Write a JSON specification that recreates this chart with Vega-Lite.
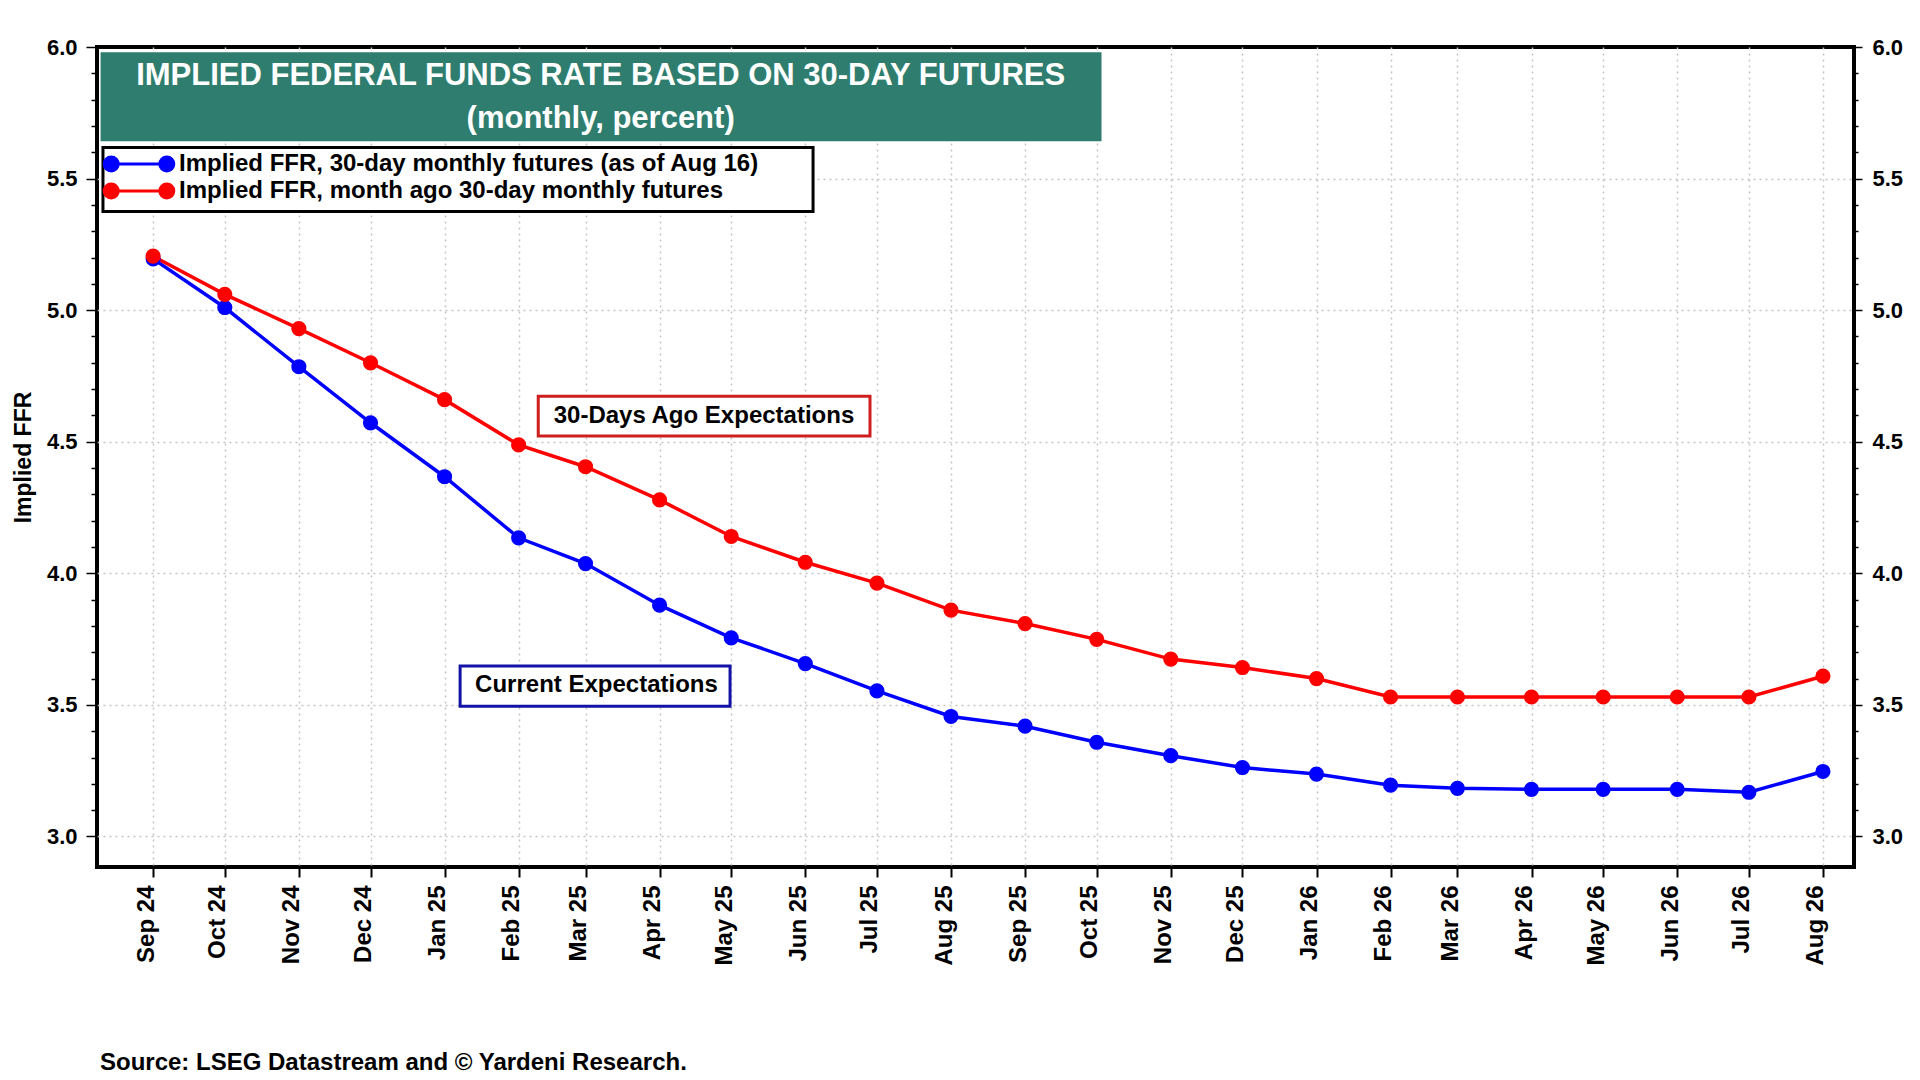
{
  "$schema": "https://vega.github.io/schema/vega-lite/v6.json",
  "width": 1757,
  "height": 820,
  "autosize": {"type": "none"},
  "padding": {"left": 97, "top": 47, "right": 66, "bottom": 213},
  "background": "white",
  "title": {
    "text": "Source: LSEG Datastream and © Yardeni Research.",
    "orient": "bottom",
    "anchor": "start",
    "frame": "group",
    "font": "Liberation Sans",
    "fontSize": 24,
    "fontWeight": "bold",
    "color": "black",
    "offset": 86,
    "dx": 3
  },
  "datasets": {
    "series": [
      {"date": "2024-09-01", "value": 5.195, "series": "Implied FFR, 30-day monthly futures (as of Aug 16)"},
      {"date": "2024-10-01", "value": 5.01, "series": "Implied FFR, 30-day monthly futures (as of Aug 16)"},
      {"date": "2024-11-01", "value": 4.785, "series": "Implied FFR, 30-day monthly futures (as of Aug 16)"},
      {"date": "2024-12-01", "value": 4.572, "series": "Implied FFR, 30-day monthly futures (as of Aug 16)"},
      {"date": "2025-01-01", "value": 4.367, "series": "Implied FFR, 30-day monthly futures (as of Aug 16)"},
      {"date": "2025-02-01", "value": 4.135, "series": "Implied FFR, 30-day monthly futures (as of Aug 16)"},
      {"date": "2025-03-01", "value": 4.037, "series": "Implied FFR, 30-day monthly futures (as of Aug 16)"},
      {"date": "2025-04-01", "value": 3.879, "series": "Implied FFR, 30-day monthly futures (as of Aug 16)"},
      {"date": "2025-05-01", "value": 3.755, "series": "Implied FFR, 30-day monthly futures (as of Aug 16)"},
      {"date": "2025-06-01", "value": 3.657, "series": "Implied FFR, 30-day monthly futures (as of Aug 16)"},
      {"date": "2025-07-01", "value": 3.553, "series": "Implied FFR, 30-day monthly futures (as of Aug 16)"},
      {"date": "2025-08-01", "value": 3.456, "series": "Implied FFR, 30-day monthly futures (as of Aug 16)"},
      {"date": "2025-09-01", "value": 3.419, "series": "Implied FFR, 30-day monthly futures (as of Aug 16)"},
      {"date": "2025-10-01", "value": 3.358, "series": "Implied FFR, 30-day monthly futures (as of Aug 16)"},
      {"date": "2025-11-01", "value": 3.307, "series": "Implied FFR, 30-day monthly futures (as of Aug 16)"},
      {"date": "2025-12-01", "value": 3.262, "series": "Implied FFR, 30-day monthly futures (as of Aug 16)"},
      {"date": "2026-01-01", "value": 3.237, "series": "Implied FFR, 30-day monthly futures (as of Aug 16)"},
      {"date": "2026-02-01", "value": 3.195, "series": "Implied FFR, 30-day monthly futures (as of Aug 16)"},
      {"date": "2026-03-01", "value": 3.183, "series": "Implied FFR, 30-day monthly futures (as of Aug 16)"},
      {"date": "2026-04-01", "value": 3.179, "series": "Implied FFR, 30-day monthly futures (as of Aug 16)"},
      {"date": "2026-05-01", "value": 3.179, "series": "Implied FFR, 30-day monthly futures (as of Aug 16)"},
      {"date": "2026-06-01", "value": 3.179, "series": "Implied FFR, 30-day monthly futures (as of Aug 16)"},
      {"date": "2026-07-01", "value": 3.168, "series": "Implied FFR, 30-day monthly futures (as of Aug 16)"},
      {"date": "2026-08-01", "value": 3.247, "series": "Implied FFR, 30-day monthly futures (as of Aug 16)"},
      {"date": "2024-09-01", "value": 5.205, "series": "Implied FFR, month ago 30-day monthly futures"},
      {"date": "2024-10-01", "value": 5.06, "series": "Implied FFR, month ago 30-day monthly futures"},
      {"date": "2024-11-01", "value": 4.93, "series": "Implied FFR, month ago 30-day monthly futures"},
      {"date": "2024-12-01", "value": 4.8, "series": "Implied FFR, month ago 30-day monthly futures"},
      {"date": "2025-01-01", "value": 4.66, "series": "Implied FFR, month ago 30-day monthly futures"},
      {"date": "2025-02-01", "value": 4.488, "series": "Implied FFR, month ago 30-day monthly futures"},
      {"date": "2025-03-01", "value": 4.405, "series": "Implied FFR, month ago 30-day monthly futures"},
      {"date": "2025-04-01", "value": 4.279, "series": "Implied FFR, month ago 30-day monthly futures"},
      {"date": "2025-05-01", "value": 4.14, "series": "Implied FFR, month ago 30-day monthly futures"},
      {"date": "2025-06-01", "value": 4.042, "series": "Implied FFR, month ago 30-day monthly futures"},
      {"date": "2025-07-01", "value": 3.963, "series": "Implied FFR, month ago 30-day monthly futures"},
      {"date": "2025-08-01", "value": 3.86, "series": "Implied FFR, month ago 30-day monthly futures"},
      {"date": "2025-09-01", "value": 3.809, "series": "Implied FFR, month ago 30-day monthly futures"},
      {"date": "2025-10-01", "value": 3.749, "series": "Implied FFR, month ago 30-day monthly futures"},
      {"date": "2025-11-01", "value": 3.674, "series": "Implied FFR, month ago 30-day monthly futures"},
      {"date": "2025-12-01", "value": 3.642, "series": "Implied FFR, month ago 30-day monthly futures"},
      {"date": "2026-01-01", "value": 3.6, "series": "Implied FFR, month ago 30-day monthly futures"},
      {"date": "2026-02-01", "value": 3.53, "series": "Implied FFR, month ago 30-day monthly futures"},
      {"date": "2026-03-01", "value": 3.53, "series": "Implied FFR, month ago 30-day monthly futures"},
      {"date": "2026-04-01", "value": 3.53, "series": "Implied FFR, month ago 30-day monthly futures"},
      {"date": "2026-05-01", "value": 3.53, "series": "Implied FFR, month ago 30-day monthly futures"},
      {"date": "2026-06-01", "value": 3.53, "series": "Implied FFR, month ago 30-day monthly futures"},
      {"date": "2026-07-01", "value": 3.53, "series": "Implied FFR, month ago 30-day monthly futures"},
      {"date": "2026-08-01", "value": 3.609, "series": "Implied FFR, month ago 30-day monthly futures"}
    ],
    "banner": [
      {"date": "2024-08-10", "date2": "2025-10-03", "value": 5.642, "value2": 5.98}
    ],
    "bannerText": [
      {"date": "2025-03-07T08:00:00Z", "value": 5.888, "text": "IMPLIED FEDERAL FUNDS RATE BASED ON 30-DAY FUTURES"},
      {"date": "2025-03-07T08:00:00Z", "value": 5.728, "text": "(monthly, percent)"}
    ],
    "legendBox": [
      {"date": "2024-08-11", "date2": "2025-06-04T06:00:00Z", "value": 5.375, "value2": 5.618}
    ],
    "notes": [
      {"date": "2025-02-09T05:00:00Z", "date2": "2025-06-28T02:00:00Z", "value": 4.522, "value2": 4.673, "mid": "2025-04-19T14:00:00Z", "center": 4.597, "text": "30-Days Ago Expectations", "kind": "ago"},
      {"date": "2025-01-07T12:00:00Z", "date2": "2025-04-30T12:00:00Z", "value": 3.495, "value2": 3.648, "mid": "2025-03-05T14:00:00Z", "center": 3.575, "text": "Current Expectations", "kind": "current"}
    ]
  },
  "encoding": {
    "x": {
      "field": "date",
      "type": "temporal",
      "scale": {
        "type": "utc",
        "domain": [
          {"year": 2024, "month": 8, "date": 8, "hours": 12, "utc": true},
          {"year": 2026, "month": 8, "date": 14, "utc": true}
        ]
      },
      "axis": {
        "title": null,
        "format": "%b %y",
        "tickCount": {"interval": "month", "step": 1},
        "labelAngle": -90,
        "labelAlign": "right",
        "labelBaseline": "alphabetic",
        "labelFont": "Liberation Sans",
        "labelFontSize": 24,
        "labelFontWeight": "bold",
        "labelColor": "black",
        "labelPadding": 8,
        "labelOverlap": false,
        "labelFlush": false,
        "tickSize": 10,
        "tickColor": "black",
        "tickWidth": 2,
        "domain": false,
        "grid": true,
        "gridColor": "#c4c4c4",
        "gridDash": [2, 4],
        "gridWidth": 1.5
      }
    },
    "y": {
      "field": "value",
      "type": "quantitative",
      "scale": {"domain": [2.884, 6.0], "nice": false, "zero": false},
      "axis": null
    }
  },
  "layer": [
    {
      "data": {"name": "banner"},
      "mark": {"type": "rect", "fill": "#2e7d6e"},
      "encoding": {
        "x2": {"field": "date2"},
        "y2": {"field": "value2"}
      }
    },
    {
      "data": {"name": "bannerText"},
      "mark": {"type": "text", "font": "Liberation Sans", "fontSize": 31, "fontWeight": "bold", "color": "white", "align": "center", "baseline": "middle"},
      "encoding": {
        "text": {"field": "text"}
      }
    },
    {
      "data": {"name": "legendBox"},
      "mark": {"type": "rect", "fill": "white", "stroke": "black", "strokeWidth": 3},
      "encoding": {
        "x2": {"field": "date2"},
        "y2": {"field": "value2"}
      }
    },
    {
      "data": {"name": "series"},
      "mark": {"type": "line", "strokeWidth": 3.5},
      "encoding": {
        "y": {
          "field": "value",
          "type": "quantitative",
          "scale": {"domain": [2.884, 6.0], "nice": false, "zero": false},
          "axis": {
            "orient": "left",
            "values": [3.0, 3.1, 3.2, 3.3, 3.4, 3.5, 3.6, 3.7, 3.8, 3.9, 4.0, 4.1, 4.2, 4.3, 4.4, 4.5, 4.6, 4.7, 4.8, 4.9, 5.0, 5.1, 5.2, 5.3, 5.4, 5.5, 5.6, 5.7, 5.8, 5.9, 6.0],
            "labelExpr": "round(datum.value * 10) % 5 == 0 ? format(datum.value, '.1f') : ''",
            "labelFont": "Liberation Sans",
            "labelFontSize": 22,
            "labelFontWeight": "bold",
            "labelColor": "black",
            "labelPadding": 9,
            "labelOverlap": false,
            "labelFlush": false,
            "tickSize": {"condition": {"test": "round(datum.value * 10) % 5 == 0", "value": 11}, "value": 6},
            "tickColor": "black",
            "tickWidth": 1.5,
            "domain": false,
            "grid": true,
            "gridColor": "#c4c4c4",
            "gridDash": [2, 4],
            "gridWidth": 1.5,
            "gridOpacity": {"condition": {"test": "round(datum.value * 10) % 5 == 0 && datum.value < 5.95", "value": 1}, "value": 0},
            "title": "Implied FFR",
            "titleFont": "Liberation Sans",
            "titleFontSize": 23,
            "titleFontWeight": "bold",
            "titleColor": "black",
            "titlePadding": 11
          }
        },
        "color": {
          "field": "series",
          "type": "nominal",
          "scale": {
            "domain": ["Implied FFR, 30-day monthly futures (as of Aug 16)", "Implied FFR, month ago 30-day monthly futures"],
            "range": ["#0000ff", "#ff0000"]
          },
          "legend": {
            "title": null,
            "orient": "none",
            "legendX": 6,
            "legendY": 100,
            "symbolType": "M-5.56,0L5.56,0M-6.96,0a1.4,1.4 0 1,0 2.8,0a1.4,1.4 0 1,0 -2.8,0M4.16,0a1.4,1.4 0 1,0 2.8,0a1.4,1.4 0 1,0 -2.8,0",
            "symbolSize": 100,
            "symbolStrokeWidth": 3,
            "symbolOffset": 19,
            "labelOffset": 28,
            "labelFont": "Liberation Sans",
            "labelFontSize": 24,
            "labelFontWeight": "bold",
            "labelColor": "black",
            "labelLimit": 0,
            "padding": 5,
            "rowPadding": 0,
            "encode": {
              "symbols": {
                "update": {
                  "fill": {"scale": "color", "field": "value"},
                  "stroke": {"scale": "color", "field": "value"},
                  "opacity": {"value": 1}
                }
              }
            }
          }
        }
      }
    },
    {
      "data": {"name": "series"},
      "mark": {"type": "circle", "size": 230, "opacity": 1},
      "encoding": {
        "y": {
          "field": "value",
          "type": "quantitative",
          "scale": {"domain": [2.884, 6.0], "nice": false, "zero": false},
          "axis": {
            "orient": "right",
            "values": [3.0, 3.1, 3.2, 3.3, 3.4, 3.5, 3.6, 3.7, 3.8, 3.9, 4.0, 4.1, 4.2, 4.3, 4.4, 4.5, 4.6, 4.7, 4.8, 4.9, 5.0, 5.1, 5.2, 5.3, 5.4, 5.5, 5.6, 5.7, 5.8, 5.9, 6.0],
            "labelExpr": "round(datum.value * 10) % 5 == 0 ? format(datum.value, '.1f') : ''",
            "labelFont": "Liberation Sans",
            "labelFontSize": 22,
            "labelFontWeight": "bold",
            "labelColor": "black",
            "labelPadding": 10,
            "labelOverlap": false,
            "labelFlush": false,
            "tickSize": {"condition": {"test": "round(datum.value * 10) % 5 == 0", "value": 8}, "value": 4},
            "tickColor": "black",
            "tickWidth": 1.5,
            "domain": false,
            "grid": false,
            "title": null
          }
        },
        "color": {
          "field": "series",
          "type": "nominal",
          "scale": {
            "domain": ["Implied FFR, 30-day monthly futures (as of Aug 16)", "Implied FFR, month ago 30-day monthly futures"],
            "range": ["#0000ff", "#ff0000"]
          },
          "legend": null
        }
      }
    },
    {
      "data": {"name": "notes"},
      "mark": {"type": "rect", "fill": "white", "strokeWidth": 3},
      "encoding": {
        "x2": {"field": "date2"},
        "y2": {"field": "value2"},
        "stroke": {
          "field": "kind",
          "type": "nominal",
          "scale": {"domain": ["ago", "current"], "range": ["#cf1e1e", "#1212a6"]},
          "legend": null
        }
      }
    },
    {
      "data": {"name": "notes"},
      "mark": {"type": "text", "font": "Liberation Sans", "fontSize": 24, "fontWeight": "bold", "color": "black", "align": "center", "baseline": "middle"},
      "encoding": {
        "x": {"field": "mid", "type": "temporal"},
        "y": {"field": "center", "type": "quantitative"},
        "text": {"field": "text"}
      }
    }
  ],
  "resolve": {"axis": {"y": "independent"}},
  "config": {
    "view": {"stroke": "black", "strokeWidth": 4},
    "font": "Liberation Sans"
  }
}
